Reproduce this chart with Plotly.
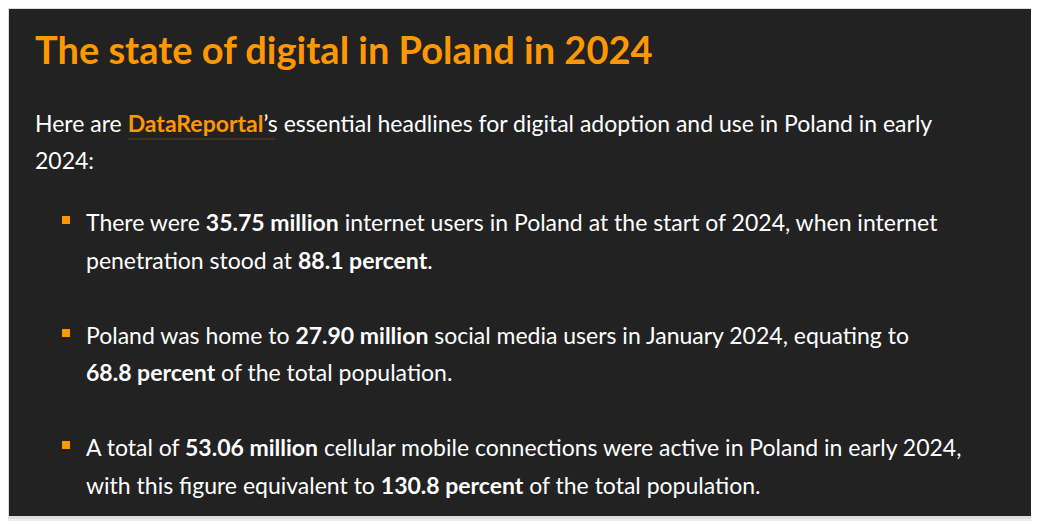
import plotly.graph_objects as go

# ---- data ----
country = "Poland"
year = 2024
source = "DataReportal"
metric_values = [35.75, 27.90, 53.06]          # millions
metric_percents = [88.1, 68.8, 130.8]          # percent of population
bullet_lines = [
    ["There were <b>{v:.2f} million</b> internet users in Poland at the start of 2024, when internet",
     "penetration stood at <b>{p:.1f} percent</b>."],
    ["Poland was home to <b>{v:.2f} million</b> social media users in January 2024, equating to",
     "<b>{p:.1f} percent</b> of the total population."],
    ["A total of <b>{v:.2f} million</b> cellular mobile connections were active in Poland in early 2024,",
     "with this figure equivalent to <b>{p:.1f} percent</b> of the total population."],
]

W, H = 1039, 525
OFF = 8  # page body margin
ORANGE = "#ff9800"
BG = "#222222"
FONT = "Lato, 'Open Sans', sans-serif"
FS = 23

fig = go.Figure()

# card shadow + card
fig.add_shape(type="rect", x0=5, y0=5, x1=1035, y1=521, line=dict(width=0), fillcolor="#efefef", layer="below")
fig.add_shape(type="rect", x0=7, y0=7, x1=1033, y1=519, line=dict(width=0), fillcolor="#dddddd", layer="below")
fig.add_shape(type="rect", x0=9, y0=9, x1=1031, y1=516, line=dict(width=0), fillcolor=BG, layer="below")

# title
fig.add_annotation(x=33, y=49, text=f"<b>The state of digital in {country} in {year}</b>",
                   showarrow=False, xanchor="left", yanchor="middle",
                   font=dict(family=FONT, size=38, color=ORANGE))

# intro paragraph
fig.add_annotation(x=33, y=123,
                   text=f"Here are <b><span style='color:{ORANGE}'>{source}</span></b>’s essential headlines for digital adoption and use in {country} in early",
                   showarrow=False, xanchor="left", yanchor="middle",
                   font=dict(family=FONT, size=FS, color="white"))
fig.add_annotation(x=33, y=160, text=f"{year}:", showarrow=False, xanchor="left", yanchor="middle",
                   font=dict(family=FONT, size=FS, color="white"))
fig.add_shape(type="line", x0=128, x1=275, y0=139, y1=139, line=dict(color="#5c4321", width=1))

# bullets
line_y = [[222, 260], [335, 372], [447, 485]]
bx, by = [], []
for i, (v, p) in enumerate(zip(metric_values, metric_percents)):
    for j, tmpl in enumerate(bullet_lines[i]):
        fig.add_annotation(x=84, y=line_y[i][j], text=tmpl.format(v=v, p=p),
                           showarrow=False, xanchor="left", yanchor="middle",
                           font=dict(family=FONT, size=FS, color="white"))
    bx.append(66)
    by.append(line_y[i][0] - 2)

fig.add_trace(go.Scatter(x=bx, y=by, mode="markers",
                         marker=dict(symbol="square", size=8, color=ORANGE, line=dict(width=0)),
                         hoverinfo="skip", showlegend=False))

fig.update_xaxes(range=[OFF, OFF + W], visible=False, fixedrange=True)
fig.update_yaxes(range=[OFF + H, OFF], visible=False, fixedrange=True)
fig.update_layout(width=W, height=H, margin=dict(l=0, r=0, t=0, b=0),
                  paper_bgcolor="white", plot_bgcolor="white", showlegend=False)

fig.write_html("out.html")
